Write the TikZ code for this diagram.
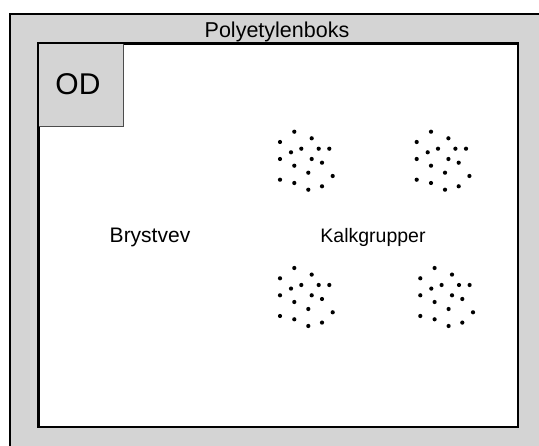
\documentclass[tikz,border=0pt]{standalone}
\usepackage{fontspec}
\setmainfont{Liberation Sans}
\begin{document}
\begin{tikzpicture}[x=1pt,y=-1pt,
  dither/.style={fill=black!17},
  frame/.style={draw=black,line width=2pt},
  label/.style={inner sep=0pt,anchor=base,font=\fontsize{20}{20}\selectfont},
  grain/.style={fill=black,draw=none}]
\useasboundingbox (0,0) rectangle (539,446);
% container: shaded band, open towards the right and bottom
\fill[dither] (10,14) rectangle (539,446);
\draw[frame] (10,446) -- (10,14) -- (539,14);
% inner white panel
\node[frame,fill=white,minimum width=479pt,minimum height=383pt,inner sep=0pt,anchor=north west] (panel) at (38,43) {};
% corner marker
\path[dither] (38,43) rectangle (123,127);
\draw[line width=1pt,black!70] (38,127) -- (123,127) -- (123,43);
\draw[frame] (panel.south west) -- (panel.north west) -- (panel.north east);
\node[inner sep=0pt,font=\fontsize{30}{30}\selectfont] (od) at (78,84) {OD};
% labels
\node[label,font=\fontsize{21.5}{21.5}\selectfont] (title) at (277,38) {Polyetylenboks};
\node[label,font=\fontsize{21}{21}\selectfont] (bryst) at (150,243) {Brystvev};
\node[label,font=\fontsize{19.5}{19.5}\selectfont] (kalk) at (373,243) {Kalkgrupper};
% micro-calcification clusters
\foreach \dx/\dy in {0/0, 136.7/0, 0/136.3, 140.3/136.3}{
  \begin{scope}[shift={(\dx,\dy)}]
    \foreach \px/\py in {294.3/131.7, 311.7/138.3, 280/142, 291/152.3, 301.3/148.7,
      318.7/148.7, 329.3/148.7, 280/159, 311.7/159, 322/162.7, 294.3/165.7,
      308.3/172.7, 332.7/176, 280/179.7, 294.3/183, 308.3/189.7, 322/186.3}
      \fill[grain] (\px,\py) circle (2.1);
  \end{scope}
}
\end{tikzpicture}
\end{document}
